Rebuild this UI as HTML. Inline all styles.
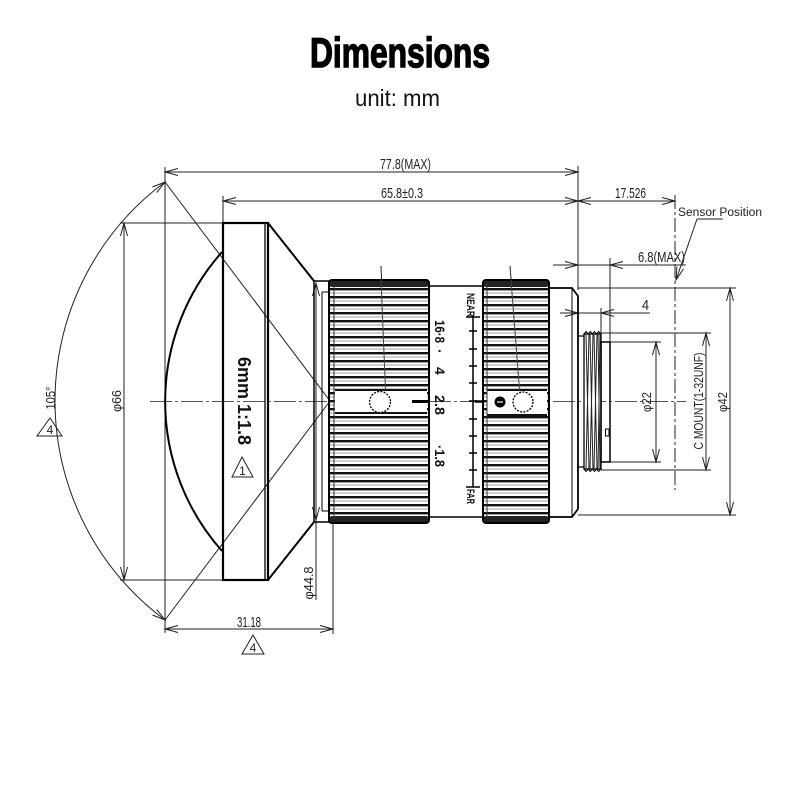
<!DOCTYPE html>
<html><head><meta charset="utf-8"><style>
html,body{margin:0;padding:0;background:#fff;}
svg{display:block;}
text{font-family:"Liberation Sans",sans-serif;}
</style></head><body>
<svg width="800" height="800" viewBox="0 0 800 800" xmlns="http://www.w3.org/2000/svg">
<defs>
<pattern id="kn" patternUnits="userSpaceOnUse" x="0" y="288" width="800" height="8">
<rect width="800" height="8" fill="#fff"/>
<rect y="0" width="800" height="2.4" fill="#111"/>
<rect y="4.6" width="800" height="0.8" fill="#888"/>
</pattern>
</defs>
<rect width="800" height="800" fill="#fff"/>

<!-- Titles -->
<text x="310" y="67" font-size="42" font-weight="bold" textLength="180" lengthAdjust="spacingAndGlyphs" fill="#000" stroke="#000" stroke-width="1.4">Dimensions</text>
<text x="355" y="106" font-size="23" textLength="85" lengthAdjust="spacingAndGlyphs" fill="#111">unit: mm</text>

<!-- center line -->
<line x1="150" y1="401.5" x2="686" y2="401.5" stroke="#555" stroke-width="1" stroke-dasharray="22 3 3 3"/>

<g fill="none" stroke="#222" stroke-width="1">
<!-- extension lines -->
<line x1="165" y1="167" x2="165" y2="633"/>
<line x1="223" y1="196" x2="223" y2="223"/>
<line x1="578" y1="166" x2="578" y2="290"/>
<line x1="610" y1="258" x2="610" y2="342"/>
<line x1="601" y1="308" x2="601" y2="333"/>
<line x1="120" y1="223" x2="223" y2="223"/>
<line x1="120" y1="580" x2="223" y2="580"/>
<line x1="333" y1="523" x2="333" y2="634"/>
<line x1="578" y1="288" x2="736" y2="288"/>
<line x1="578" y1="515" x2="736" y2="515"/>
<line x1="601" y1="333" x2="711" y2="333"/>
<line x1="601" y1="470" x2="711" y2="470"/>
<line x1="610" y1="342" x2="661" y2="342"/>
<line x1="610" y1="462" x2="661" y2="462"/>

<!-- dim lines -->
<line x1="165" y1="172" x2="578" y2="172"/>
<path d="M178,168.5 L165,172 L178,175.5 M565,168.5 L578,172 L565,175.5"/>
<line x1="223" y1="201" x2="578" y2="201"/>
<path d="M236,197.5 L223,201 L236,204.5 M565,197.5 L578,201 L565,204.5"/>
<line x1="578" y1="201" x2="675" y2="201"/>
<path d="M591,197.5 L578,201 L591,204.5 M662,197.5 L675,201 L662,204.5"/>
<line x1="553" y1="265" x2="686" y2="265"/>
<path d="M565,261.5 L578,265 L565,268.5 M623,261.5 L610,265 L623,268.5"/>
<line x1="560" y1="313" x2="650" y2="313"/>
<path d="M565,309.5 L578,313 L565,316.5 M614,309.5 L601,313 L614,316.5"/>
<line x1="124" y1="223" x2="124" y2="580"/>
<path d="M120.5,236 L124,223 L127.5,236 M120.5,567 L124,580 L127.5,567"/>
<line x1="165" y1="629" x2="333" y2="629"/>
<path d="M178,625.5 L165,629 L178,632.5 M320,625.5 L333,629 L320,632.5"/>
<line x1="316" y1="283" x2="316" y2="600"/>
<path d="M312.5,296 L316,283 L319.5,296 M312.5,507 L316,520 L319.5,507"/>
<line x1="730" y1="288" x2="730" y2="515"/>
<path d="M726.5,301 L730,288 L733.5,301 M726.5,502 L730,515 L733.5,502"/>
<line x1="706" y1="333" x2="706" y2="470"/>
<path d="M702.5,346 L706,333 L709.5,346 M702.5,457 L706,470 L709.5,457"/>
<line x1="656" y1="342" x2="656" y2="462"/>
<path d="M652.5,355 L656,342 L659.5,355 M652.5,449 L656,462 L659.5,449"/>

<!-- angle arc -->
<path d="M165,182 A273,273 0 0 0 165,620"/>
<path d="M152.5,187 L165,182 L156.7,192.6 M152.5,615 L165,620 L156.7,609.4"/>
<line x1="165" y1="182" x2="330" y2="401"/>
<line x1="165" y1="620" x2="330" y2="401"/>

<!-- sensor -->
<line x1="675" y1="195" x2="675" y2="490" stroke-dasharray="14 3 3 3"/>
<line x1="697" y1="219" x2="723" y2="219"/>
<line x1="697" y1="219" x2="676" y2="280"/>
<path d="M676.9,266.6 L676,280 L683.5,268.8"/>

<!-- leaders on rings -->
<line x1="381" y1="266" x2="386" y2="390"/>
<path d="M382.3,377 L386,390 L389.3,376.7"/>
<line x1="510" y1="266" x2="520" y2="390"/>
<path d="M515.4,377.3 L520,390 L522.4,376.7"/>
</g>

<!-- front lens housing -->
<g fill="none" stroke="#000">
<rect x="223" y="223" width="45" height="357" stroke-width="2.2" fill="none"/>
<line x1="265" y1="223" x2="265" y2="580" stroke-width="1.3"/>
<path d="M268,223 L314,281 M268,580 L314,522" stroke-width="2"/>
<path d="M222,252 A225,225 0 0 0 222,551" stroke-width="2"/>
<path d="M314,281 L314,522 M314,281 L330,281 M314,522 L330,522" stroke-width="1.5"/>
<path d="M322,292 L322,511 M322,292 L330,292 M322,511 L330,511" stroke-width="1"/>
</g>

<!-- focus ring 1 -->
<rect x="329" y="280" width="100" height="243" rx="3" fill="url(#kn)"/>
<rect x="329" y="280" width="100" height="7" rx="3" fill="#222"/>
<rect x="329" y="516" width="100" height="7" rx="3" fill="#222"/>
<rect x="335" y="390" width="92" height="22" fill="#fff"/>
<line x1="335" y1="390" x2="427" y2="390" stroke="#111" stroke-width="2"/>
<line x1="335" y1="413" x2="427" y2="413" stroke="#111" stroke-width="2"/>
<rect x="329" y="280" width="100" height="243" rx="3" fill="none" stroke="#000" stroke-width="2"/>
<line x1="334" y1="283" x2="334" y2="520" stroke="#333" stroke-width="1"/>
<line x1="412" y1="401.5" x2="428" y2="401.5" stroke="#000" stroke-width="3"/>
<circle cx="380" cy="402" r="10.5" fill="#fff" stroke="#000" stroke-width="1.3" stroke-dasharray="2 1.3"/>
<line x1="381" y1="280" x2="385.5" y2="390" stroke="#444" stroke-width="1"/>

<!-- body between rings -->
<path d="M429,286 L483,286 M429,517 L483,517" stroke="#000" stroke-width="1.5" fill="none"/>
<g stroke="#000" stroke-width="1.5">
<line x1="473" y1="317" x2="473" y2="487"/>
<line x1="466" y1="317" x2="480" y2="317"/>
<line x1="466" y1="487" x2="480" y2="487"/>
<line x1="469" y1="331" x2="477" y2="331"/>
<line x1="469" y1="349" x2="477" y2="349"/>
<line x1="469" y1="366" x2="477" y2="366"/>
<line x1="469" y1="383" x2="477" y2="383"/>
<line x1="469" y1="401" x2="477" y2="401"/>
<line x1="469" y1="419" x2="477" y2="419"/>
<line x1="469" y1="436" x2="477" y2="436"/>
<line x1="469" y1="453" x2="477" y2="453"/>
<line x1="469" y1="470" x2="477" y2="470"/>
</g>
<line x1="475" y1="401.5" x2="496" y2="401.5" stroke="#000" stroke-width="2.5"/>
<g font-weight="bold" font-size="14" fill="#111">
<text transform="translate(435,320) rotate(90)" textLength="23" lengthAdjust="spacingAndGlyphs">16·8</text>
<text transform="translate(435,349) rotate(90)">·</text>
<text transform="translate(435,367) rotate(90)">4</text>
<text transform="translate(435,395) rotate(90)" textLength="20" lengthAdjust="spacingAndGlyphs">2.8</text>
<text transform="translate(435,445) rotate(90)" textLength="22" lengthAdjust="spacingAndGlyphs">·1.8</text>
</g>
<g font-weight="bold" font-size="11" fill="#111">
<text transform="translate(467,293) rotate(90)" textLength="24" lengthAdjust="spacingAndGlyphs">NEAR</text>
<text transform="translate(467,489) rotate(90)" textLength="15" lengthAdjust="spacingAndGlyphs">FAR</text>
</g>

<!-- ring 2 -->
<rect x="483" y="280" width="66" height="243" rx="3" fill="url(#kn)"/>
<rect x="483" y="280" width="66" height="7" rx="3" fill="#222"/>
<rect x="483" y="516" width="66" height="7" rx="3" fill="#222"/>
<rect x="487" y="390" width="60" height="25" fill="#fff"/>
<line x1="487" y1="390" x2="547" y2="390" stroke="#111" stroke-width="2"/>
<line x1="487" y1="415" x2="547" y2="415" stroke="#111" stroke-width="2"/>
<rect x="483" y="280" width="66" height="243" rx="3" fill="none" stroke="#000" stroke-width="2"/>
<line x1="487" y1="283" x2="487" y2="520" stroke="#333" stroke-width="1"/>
<line x1="511" y1="280" x2="519.5" y2="390" stroke="#444" stroke-width="1"/>
<circle cx="500" cy="402" r="5.5" fill="#000"/>
<line x1="497" y1="402" x2="503" y2="402" stroke="#fff" stroke-width="1.2"/>
<circle cx="523" cy="402" r="10" fill="#fff" stroke="#000" stroke-width="1.3" stroke-dasharray="2 1.3"/>

<!-- rear housing -->
<g fill="none" stroke="#000">
<path d="M549,288 L572,288 L578,296 L578,509 L572,517 L549,517" stroke-width="1.8"/>
<line x1="572" y1="288" x2="572" y2="517" stroke-width="1"/>
<path d="M578,336 L584,336 M578,467 L584,467" stroke-width="1.2"/>
<rect x="584" y="334" width="17" height="135" stroke-width="1.3" fill="#fff"/>
<path d="M584,334 l2.1,-2.5 l2.1,2.5 l2.1,-2.5 l2.1,2.5 l2.1,-2.5 l2.1,2.5 l2.1,-2.5 l2.1,2.5 M584,469 l2.1,2.5 l2.1,-2.5 l2.1,2.5 l2.1,-2.5 l2.1,2.5 l2.1,-2.5 l2.1,2.5 l2.1,-2.5" stroke-width="1"/>
<g stroke-width="1" stroke="#222">
<line x1="586" y1="334" x2="589" y2="469"/><line x1="589" y1="334" x2="586" y2="469"/>
<line x1="590" y1="334" x2="593" y2="469"/><line x1="593" y1="334" x2="590" y2="469"/>
<line x1="594" y1="334" x2="597" y2="469"/><line x1="597" y1="334" x2="594" y2="469"/>
<line x1="598" y1="334" x2="600" y2="469"/><line x1="600" y1="334" x2="598" y2="469"/>
</g>
<rect x="601" y="342" width="9" height="120" stroke-width="1.5"/>
<rect x="605.5" y="429" width="3.5" height="7" stroke-width="1"/>
</g>

<!-- dimension texts -->
<g font-size="15" fill="#222">
<text x="380" y="169" textLength="51" lengthAdjust="spacingAndGlyphs">77.8(MAX)</text>
<text x="381" y="198" textLength="42" lengthAdjust="spacingAndGlyphs">65.8±0.3</text>
<text x="615" y="198" textLength="31" lengthAdjust="spacingAndGlyphs">17.526</text>
<text x="638" y="262" textLength="47" lengthAdjust="spacingAndGlyphs">6.8(MAX)</text>
<text x="642" y="310" textLength="7" lengthAdjust="spacingAndGlyphs">4</text>
<text x="237" y="627" textLength="24" lengthAdjust="spacingAndGlyphs">31.18</text>
</g>
<text x="678" y="216" font-size="11.5" fill="#222" textLength="84" lengthAdjust="spacingAndGlyphs">Sensor Position</text>
<g font-size="13" fill="#222" text-anchor="middle">
<text transform="translate(121,401) rotate(-90)" textLength="22" lengthAdjust="spacingAndGlyphs">φ66</text>
<text transform="translate(55,398) rotate(-90)" textLength="23" lengthAdjust="spacingAndGlyphs">105°</text>
<text transform="translate(313,583) rotate(-90)" textLength="33" lengthAdjust="spacingAndGlyphs">φ44.8</text>
<text transform="translate(651,402) rotate(-90)" textLength="20" lengthAdjust="spacingAndGlyphs">φ22</text>
<text transform="translate(703,401) rotate(-90)" textLength="97" lengthAdjust="spacingAndGlyphs">C MOUNT(1-32UNF)</text>
<text transform="translate(727,402) rotate(-90)" textLength="20" lengthAdjust="spacingAndGlyphs">φ42</text>
</g>
<text transform="translate(238,357) rotate(90)" font-size="18" font-weight="bold" fill="#111" textLength="88" lengthAdjust="spacingAndGlyphs">6mm 1:1.8</text>

<!-- triangles -->
<g fill="none" stroke="#222" stroke-width="1">
<path d="M50,418 L37,436 L62,436 Z"/>
<path d="M253,635 L242,654 L264,654 Z"/>
<path d="M242,457 L232,477 L253,477 Z"/>
</g>
<g font-size="12" fill="#222" text-anchor="middle">
<text x="50" y="434">4</text>
<text x="253" y="652">4</text>
<text x="242.5" y="475">1</text>
</g>
</svg>
</body></html>
